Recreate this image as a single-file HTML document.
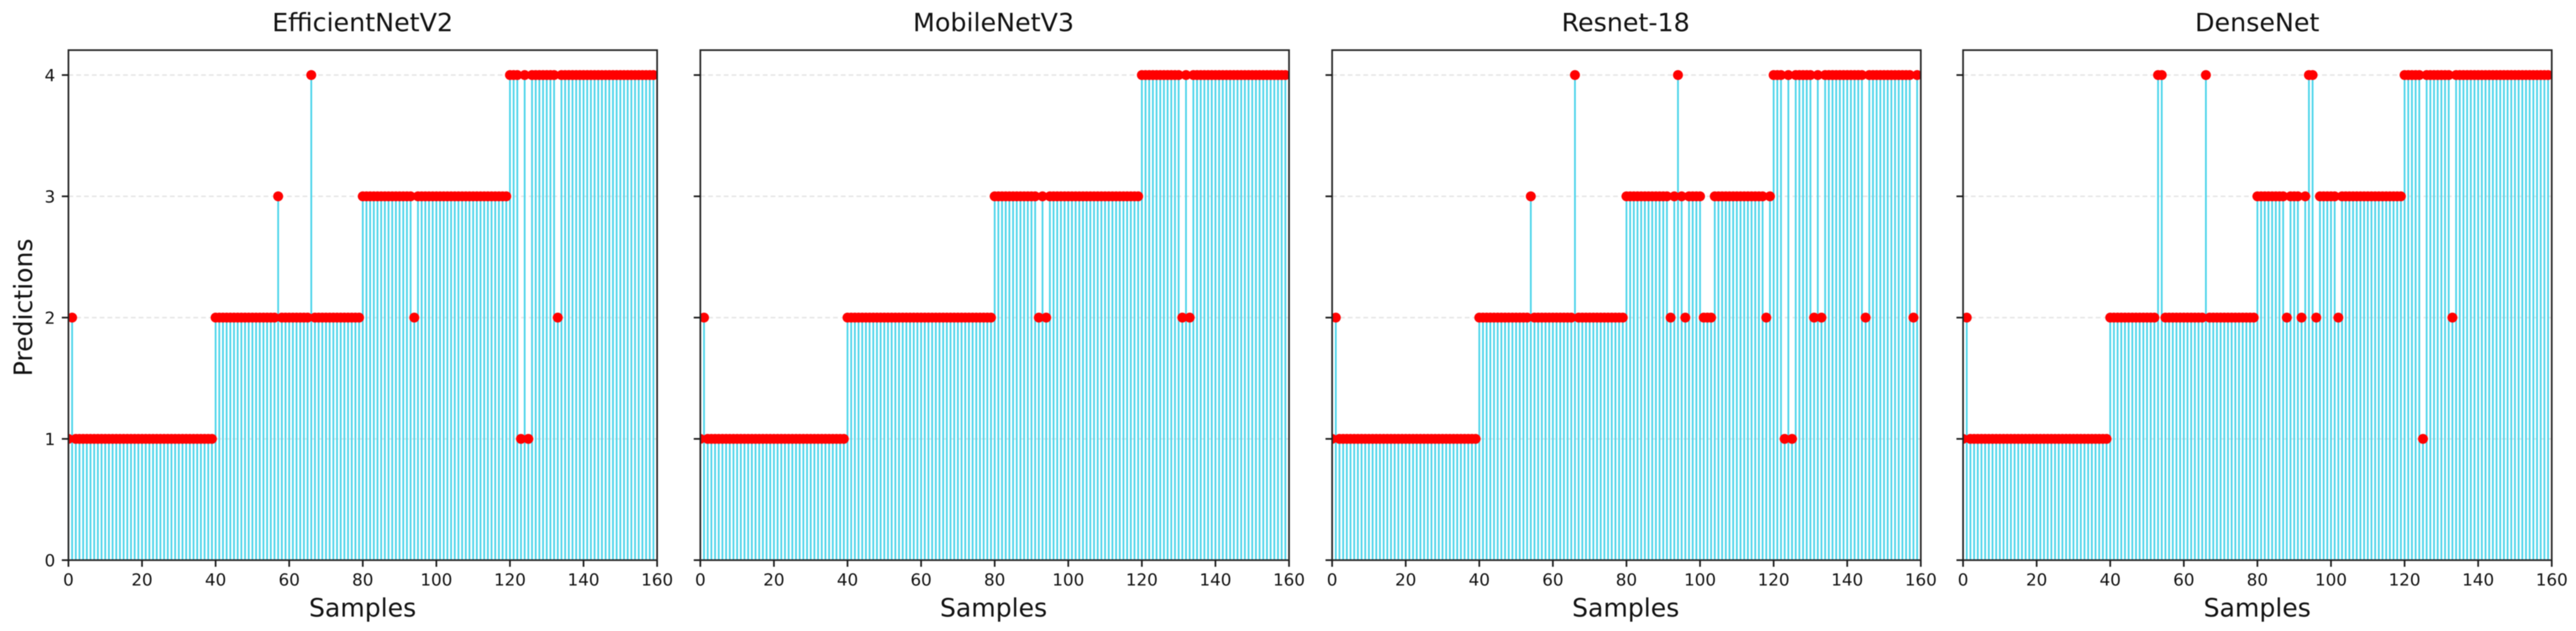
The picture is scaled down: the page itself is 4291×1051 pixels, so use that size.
<!DOCTYPE html>
<html lang="en">
<head>
<meta charset="utf-8">
<title>Predictions per sample by model</title>
<style>
html,body{margin:0;padding:0;background:#fff;width:4291px;height:1051px;overflow:hidden}
svg{display:block;filter:blur(0.7px)}
text{font-family:"DejaVu Sans","Liberation Sans",sans-serif;fill:#111}
.tick{font-size:27.9px}
.label{font-size:41.8px}
.title{font-size:42.2px}
</style>
</head>
<body>
<svg id="figure" xmlns="http://www.w3.org/2000/svg" width="4291" height="1051" viewBox="0 0 4291 1051">
  <rect width="4291" height="1051" fill="#fff"/>
  <defs>
    <clipPath id="clip-0"><rect x="114" y="83.5" width="980.6" height="849.5"/></clipPath>
    <clipPath id="clip-1"><rect x="1166.6" y="83.5" width="980.6" height="849.5"/></clipPath>
    <clipPath id="clip-2"><rect x="2219" y="83.5" width="980.6" height="849.5"/></clipPath>
    <clipPath id="clip-3"><rect x="3270" y="83.5" width="980.6" height="849.5"/></clipPath>
  </defs>

  <text class="label" text-anchor="middle" transform="translate(53.5 512) rotate(-90)">Predictions</text>

  <g id="panel-0" data-left="114">
    <text class="title" x="604" y="52" text-anchor="middle">EfficientNetV2</text>
    <text class="label" x="604" y="1027" text-anchor="middle">Samples</text>
  </g>
  <g id="panel-1" data-left="1166.6">
    <text class="title" x="1655" y="52" text-anchor="middle">MobileNetV3</text>
    <text class="label" x="1655" y="1027" text-anchor="middle">Samples</text>
  </g>
  <g id="panel-2" data-left="2219">
    <text class="title" x="2708" y="52" text-anchor="middle">Resnet-18</text>
    <text class="label" x="2708" y="1027" text-anchor="middle">Samples</text>
  </g>
  <g id="panel-3" data-left="3270">
    <text class="title" x="3760" y="52" text-anchor="middle">DenseNet</text>
    <text class="label" x="3760" y="1027" text-anchor="middle">Samples</text>
  </g>
</svg>

<script>
const xTickLabels = [0, 20, 40, 60, 80, 100, 120, 140, 160];
const yTickLabels = [0, 1, 2, 3, 4];

const efficientNetV2 = [
  1,2,1,1,1,1,1,1,1,1, 1,1,1,1,1,1,1,1,1,1, 1,1,1,1,1,1,1,1,1,1, 1,1,1,1,1,1,1,1,1,1,
  2,2,2,2,2,2,2,2,2,2, 2,2,2,2,2,2,2,3,2,2, 2,2,2,2,2,2,4,2,2,2, 2,2,2,2,2,2,2,2,2,2,
  3,3,3,3,3,3,3,3,3,3, 3,3,3,3,2,3,3,3,3,3, 3,3,3,3,3,3,3,3,3,3, 3,3,3,3,3,3,3,3,3,3,
  4,4,4,1,4,1,4,4,4,4, 4,4,4,2,4,4,4,4,4,4, 4,4,4,4,4,4,4,4,4,4, 4,4,4,4,4,4,4,4,4,4
];
const mobileNetV3 = [
  1,2,1,1,1,1,1,1,1,1, 1,1,1,1,1,1,1,1,1,1, 1,1,1,1,1,1,1,1,1,1, 1,1,1,1,1,1,1,1,1,1,
  2,2,2,2,2,2,2,2,2,2, 2,2,2,2,2,2,2,2,2,2, 2,2,2,2,2,2,2,2,2,2, 2,2,2,2,2,2,2,2,2,2,
  3,3,3,3,3,3,3,3,3,3, 3,3,2,3,2,3,3,3,3,3, 3,3,3,3,3,3,3,3,3,3, 3,3,3,3,3,3,3,3,3,3,
  4,4,4,4,4,4,4,4,4,4, 4,2,4,2,4,4,4,4,4,4, 4,4,4,4,4,4,4,4,4,4, 4,4,4,4,4,4,4,4,4,4
];
const resnet18 = [
  1,2,1,1,1,1,1,1,1,1, 1,1,1,1,1,1,1,1,1,1, 1,1,1,1,1,1,1,1,1,1, 1,1,1,1,1,1,1,1,1,1,
  2,2,2,2,2,2,2,2,2,2, 2,2,2,2,3,2,2,2,2,2, 2,2,2,2,2,2,4,2,2,2, 2,2,2,2,2,2,2,2,2,2,
  3,3,3,3,3,3,3,3,3,3, 3,3,2,3,4,3,2,3,3,3, 3,2,2,2,3,3,3,3,3,3, 3,3,3,3,3,3,3,3,2,3,
  4,4,4,1,4,1,4,4,4,4, 4,2,4,2,4,4,4,4,4,4, 4,4,4,4,4,2,4,4,4,4, 4,4,4,4,4,4,4,4,2,4
];
const denseNet = [
  1,2,1,1,1,1,1,1,1,1, 1,1,1,1,1,1,1,1,1,1, 1,1,1,1,1,1,1,1,1,1, 1,1,1,1,1,1,1,1,1,1,
  2,2,2,2,2,2,2,2,2,2, 2,2,2,4,4,2,2,2,2,2, 2,2,2,2,2,2,4,2,2,2, 2,2,2,2,2,2,2,2,2,2,
  3,3,3,3,3,3,3,3,2,3, 3,3,2,3,4,4,2,3,3,3, 3,3,2,3,3,3,3,3,3,3, 3,3,3,3,3,3,3,3,3,3,
  4,4,4,4,4,1,4,4,4,4, 4,4,4,2,4,4,4,4,4,4, 4,4,4,4,4,4,4,4,4,4, 4,4,4,4,4,4,4,4,4,4
];
const modelSeries = [efficientNetV2, mobileNetV3, resnet18, denseNet];

const NS = 'http://www.w3.org/2000/svg';
const AXIS_WIDTH = 980.6;
const X_MAX = 160;
const Y_ZERO = 933;
const Y_TOP = 83.5;
const Y_UNIT = 202;

function xScale(value, left) {
  return left + (value / X_MAX) * AXIS_WIDTH;
}
function yScale(value) {
  return Y_ZERO - value * Y_UNIT;
}
function make(tag, attrs, parent) {
  const el = document.createElementNS(NS, tag);
  for (const k in attrs) el.setAttribute(k, attrs[k]);
  parent.appendChild(el);
  return el;
}

modelSeries.forEach(function (values, p) {
  const panel = document.getElementById('panel-' + p);
  const left = parseFloat(panel.getAttribute('data-left'));
  const right = left + AXIS_WIDTH;
  const clip = 'url(#clip-' + p + ')';

  const gridLayer = make('g', { 'clip-path': clip }, panel);
  
  
  yTickLabels.forEach(function (tick) {
    const g = make('line', { x1: left, x2: right, y1: yScale(tick), y2: yScale(tick), stroke: '#e6e6e6', 'stroke-width': 2.4, 'stroke-dasharray': '8 5' }, gridLayer);
    
    
  });

  const stemLayer = make('g', { 'clip-path': clip, stroke: '#4ad4ea', 'stroke-width': 2.9 }, panel);
  
  
  values.forEach(function (v, i) {
    const s = make('line', { x1: xScale(i, left), x2: xScale(i, left), y1: yScale(0), y2: yScale(v) }, stemLayer);
    
    
  });

  const markerLayer = make('g', { 'clip-path': clip, fill: '#ff0000' }, panel);
  
  
  values.forEach(function (v, i) {
    const m = make('circle', { cx: xScale(i, left), cy: yScale(v), r: 8.3 }, markerLayer);
    
    
  });

  const frame = make('rect', { x: left, y: Y_TOP, width: AXIS_WIDTH, height: Y_ZERO - Y_TOP, fill: 'none', stroke: '#262626', 'stroke-width': 2.8 }, panel);
  
  

  yTickLabels.forEach(function (tick) {
    const y = yScale(tick);
    const t = make('line', { x1: left - 11, x2: left, y1: y, y2: y, stroke: '#1a1a1a', 'stroke-width': 2.8 }, panel);
    
    
    if (p === 0) {
      const lab = make('text', { class: 'tick', x: left - 22, y: y + 10, 'text-anchor': 'end' }, panel);
      
      
      lab.textContent = tick;
    }
  });

  xTickLabels.forEach(function (tick) {
    const x = xScale(tick, left);
    const t = make('line', { x1: x, x2: x, y1: Y_ZERO, y2: Y_ZERO + 11, stroke: '#1a1a1a', 'stroke-width': 2.8 }, panel);
    
    
    const lab = make('text', { class: 'tick', x: x, y: 975, 'text-anchor': 'middle' }, panel);
    
    
    lab.textContent = tick;
  });
});
</script>
</body>
</html>
